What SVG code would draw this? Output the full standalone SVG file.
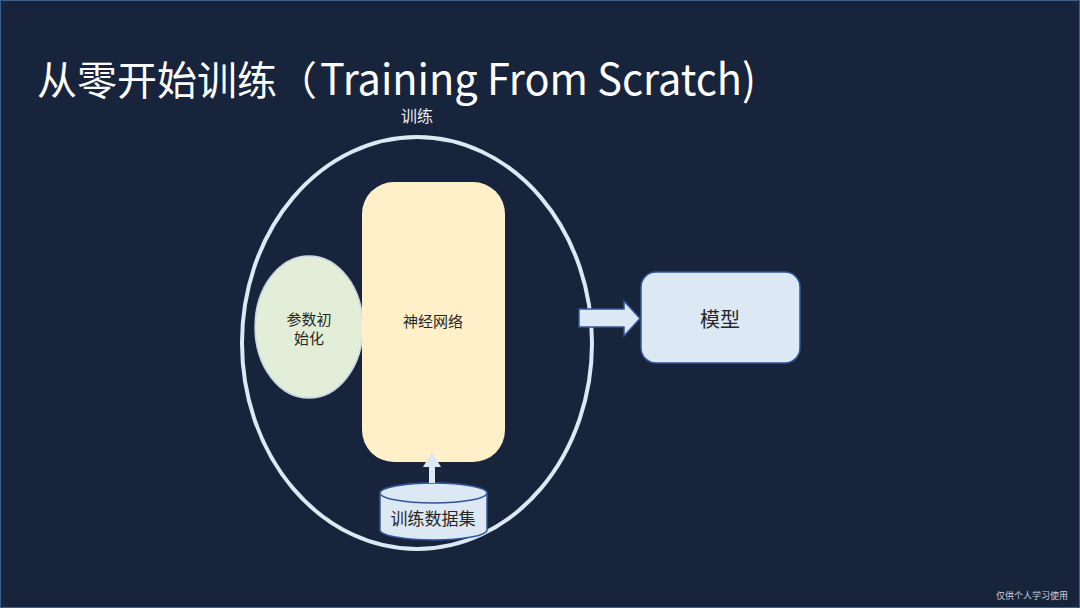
<svg xmlns="http://www.w3.org/2000/svg" width="1080" height="608" viewBox="0 0 1080 608">
<style>
.cjk{font-family:"Noto Sans CJK SC","Noto Sans",sans-serif;}
.lab{fill:#262626;text-anchor:middle;}
.pale{fill:#dde8f5;stroke:#2f5597;stroke-width:1.5;}
</style>
<rect x="0.5" y="0.5" width="1079" height="607" fill="#18243c" stroke="#3a5f8a" stroke-width="1"/>
<text id="title" class="cjk" x="37" y="95" font-size="40" fill="#ffffff">从零开始训练（<tspan x="320" font-size="43" textLength="436" lengthAdjust="spacingAndGlyphs">Training From Scratch)</tspan></text>
<g id="train">
<text class="cjk" x="417" y="122" font-size="16" fill="#e8eef5" text-anchor="middle">训练</text>
<ellipse cx="417" cy="343" rx="175" ry="206" fill="none" stroke="#dde8f5" stroke-width="4"/>
</g>
<g id="init">
<ellipse cx="309" cy="327" rx="54" ry="71" fill="#e2eed8" stroke="#c9d6e6" stroke-width="1.5"/>
<text class="cjk lab" x="309" y="325" font-size="15">参数初</text>
<text class="cjk lab" x="309" y="344" font-size="15">始化</text>
</g>
<g id="nn">
<rect x="362" y="182" width="143" height="280" rx="32" fill="#fff0c9"/>
<text class="cjk lab" x="433" y="327" font-size="15">神经网络</text>
</g>
<g id="dataset">
<path class="pale" d="M380,493 L380,530 A53.5,10 0 0 0 487,530 L487,493 A53.5,10 0 0 0 380,493 Z"/>
<ellipse cx="433.5" cy="493" rx="53.5" ry="10" class="pale"/>
<text class="cjk lab" x="433" y="525" font-size="17" fill="#333">训练数据集</text>
</g>
<g id="model">
<rect x="641" y="272" width="159" height="91" rx="15" class="pale"/>
<text class="cjk lab" x="720" y="327" font-size="20">模型</text>
</g>
<g id="connectors">
<path d="M429,483 L429,467 L423,467 L432,452 L441,467 L435,467 L435,483 Z" fill="#dde8f5"/>
<path class="pale" d="M579,309 L624,309 L624,301 L640,318.5 L624,336 L624,327 L579,327 Z"/>
</g>
<text class="cjk" x="1068" y="599" font-size="9" fill="#c8d0dc" text-anchor="end">仅供个人学习使用</text>
</svg>
